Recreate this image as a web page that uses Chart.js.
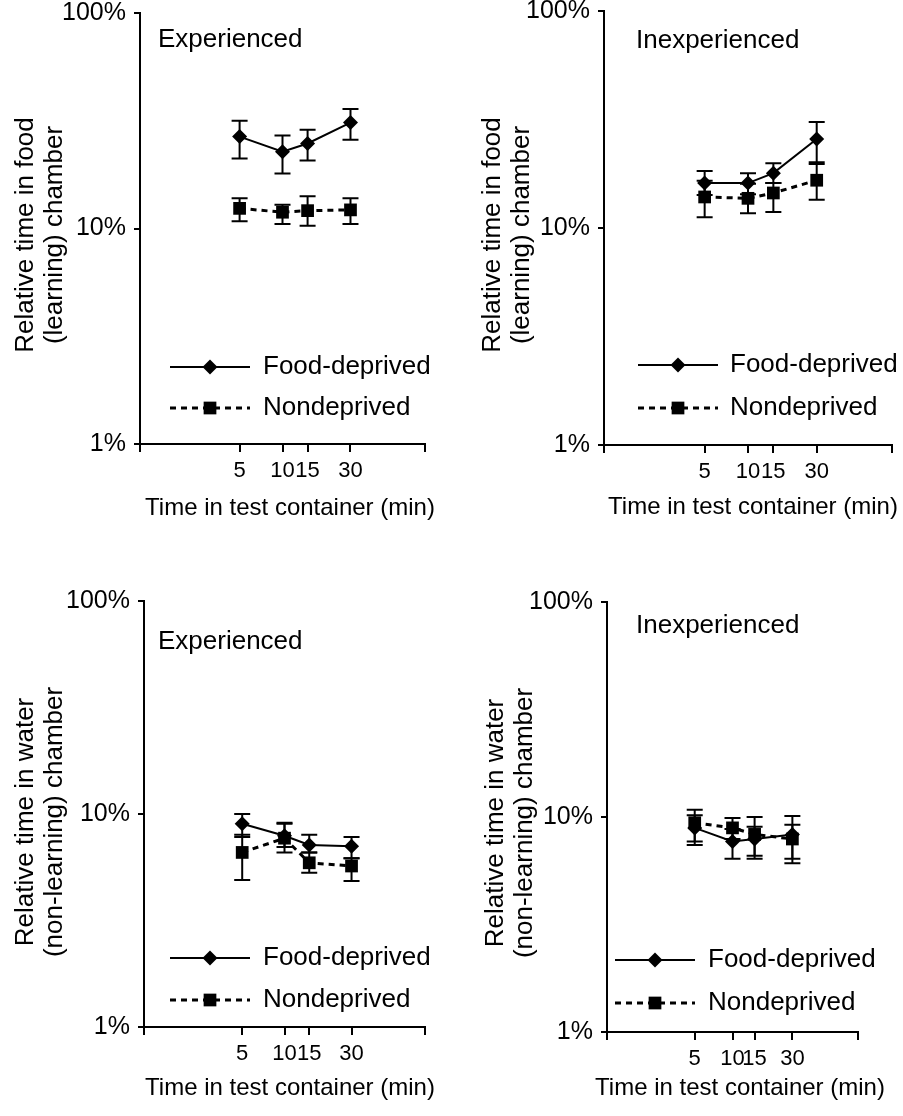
<!DOCTYPE html>
<html lang="en">
<head>
<meta charset="UTF-8">
<title>Relative time in chamber</title>
<script src="https://cdn.jsdelivr.net/npm/chart.js"></script>
<style>
  body { margin: 0; background: #fff; }
  #page { position: relative; width: 903px; height: 1116px; }
  canvas { position: absolute; }
</style>
</head>
<body>
<div id="page">
  <canvas id="foodExp"></canvas>
  <canvas id="foodInexp"></canvas>
  <canvas id="waterExp"></canvas>
  <canvas id="waterInexp"></canvas>
</div>

<script>
  // x = time in test container (min), y = relative time (%), both log axes
  const times = [5, 10, 15, 30];
  const xTicks = [1, 5, 10, 15, 30, 100];
  const xTickLabels = [5, 10, 15, 30];
  const yTicks = [1, 10, 100];
  const seriesNames = ['Food-deprived', 'Nondeprived'];
  const xTitle = 'Time in test container (min)';

  // food (learning) chamber, experienced
  const foodExpDeprived = [26.7, 22.7, 24.8, 31.0];
  const foodExpDeprivedLow = [21.1, 18.0, 20.7, 25.8];
  const foodExpDeprivedHigh = [31.6, 27.0, 28.7, 35.9];
  const foodExpNondeprived = [12.4, 11.9, 12.1, 12.2];
  const foodExpNondeprivedLow = [10.8, 10.5, 10.3, 10.5];
  const foodExpNondeprivedHigh = [13.8, 12.9, 14.1, 13.8];

  // food (learning) chamber, inexperienced
  const foodInexpDeprived = [16.1, 16.1, 17.9, 25.7];
  const foodInexpDeprivedLow = [14.2, 14.3, 16.1, 20.1];
  const foodInexpDeprivedHigh = [18.3, 17.9, 19.9, 30.8];
  const foodInexpNondeprived = [13.9, 13.7, 14.5, 16.6];
  const foodInexpNondeprivedLow = [11.2, 11.7, 11.85, 13.5];
  const foodInexpNondeprivedHigh = [16.5, 16.0, 16.1, 19.7];

  // water (non-learning) chamber, experienced
  const waterExpDeprived = [9.0, 7.9, 7.15, 7.05];
  const waterExpDeprivedLow = [7.8, 7.0, 6.6, 6.2];
  const waterExpDeprivedHigh = [10.0, 9.1, 8.0, 7.8];
  const waterExpNondeprived = [6.6, 7.7, 5.9, 5.7];
  const waterExpNondeprivedLow = [4.9, 6.6, 5.3, 4.85];
  const waterExpNondeprivedHigh = [8.0, 9.0, 6.6, 6.2];

  // water (non-learning) chamber, inexperienced
  const waterInexpDeprived = [8.9, 7.7, 7.9, 8.3];
  const waterInexpDeprivedLow = [7.4, 6.4, 6.4, 6.4];
  const waterInexpDeprivedHigh = [10.2, 8.8, 9.0, 10.1];
  const waterInexpNondeprived = [9.4, 8.9, 8.3, 7.9];
  const waterInexpNondeprivedLow = [7.7, 7.9, 6.6, 6.1];
  const waterInexpNondeprivedHigh = [10.8, 9.9, 10.0, 9.2];

  const FONT = "'Liberation Sans', Arial, Helvetica, sans-serif";
  Chart.defaults.font.family = FONT;
  Chart.defaults.color = '#000';

  // positions are in canvas pixels
  const panels = [
    {
      canvasId: 'foodExp', left: 0, top: 0, width: 450, height: 522,
      area: { left: 140, top: 13, right: 425, bottom: 444 },
      title: 'Experienced', titleAt: [158, 47],
      yTitle: ['Relative time in food', '(learning) chamber'], yTitleAt: [33, 235],
      xTitleAt: [290, 508],
      legendRows: [367, 408], legendLine: [170, 250], legendText: 263,
      deprived: [foodExpDeprived, foodExpDeprivedLow, foodExpDeprivedHigh],
      nondeprived: [foodExpNondeprived, foodExpNondeprivedLow, foodExpNondeprivedHigh]
    },
    {
      canvasId: 'foodInexp', left: 450, top: 0, width: 453, height: 521,
      area: { left: 154, top: 11, right: 442, bottom: 445 },
      title: 'Inexperienced', titleAt: [186, 48],
      yTitle: ['Relative time in food', '(learning) chamber'], yTitleAt: [50, 235],
      xTitleAt: [303, 507],
      legendRows: [365, 408], legendLine: [188, 268], legendText: 280,
      deprived: [foodInexpDeprived, foodInexpDeprivedLow, foodInexpDeprivedHigh],
      nondeprived: [foodInexpNondeprived, foodInexpNondeprivedLow, foodInexpNondeprivedHigh]
    },
    {
      canvasId: 'waterExp', left: 0, top: 560, width: 450, height: 542,
      area: { left: 144, top: 41, right: 425, bottom: 467 },
      title: 'Experienced', titleAt: [158, 89],
      yTitle: ['Relative time in water', '(non-learning) chamber'], yTitleAt: [33, 262],
      xTitleAt: [290, 528],
      legendRows: [398, 440], legendLine: [170, 250], legendText: 263,
      deprived: [waterExpDeprived, waterExpDeprivedLow, waterExpDeprivedHigh],
      nondeprived: [waterExpNondeprived, waterExpNondeprivedLow, waterExpNondeprivedHigh]
    },
    {
      canvasId: 'waterInexp', left: 450, top: 560, width: 453, height: 542,
      area: { left: 157, top: 42, right: 408, bottom: 472 },
      title: 'Inexperienced', titleAt: [186, 73],
      yTitle: ['Relative time in water', '(non-learning) chamber'], yTitleAt: [53, 263],
      xTitleAt: [290, 528],
      legendRows: [400, 443], legendLine: [165, 245], legendText: 258,
      deprived: [waterInexpDeprived, waterInexpDeprivedLow, waterInexpDeprivedHigh],
      nondeprived: [waterInexpNondeprived, waterInexpNondeprivedLow, waterInexpNondeprivedHigh]
    }
  ];

  // vertical error bars with caps, drawn under the markers
  const errorBars = {
    id: 'errorBars',
    beforeDatasetsDraw(chart) {
      const ctx = chart.ctx;
      const yScale = chart.scales.y;
      ctx.save();
      ctx.strokeStyle = '#000';
      ctx.lineWidth = 2;
      chart.data.datasets.forEach((ds, i) => {
        chart.getDatasetMeta(i).data.forEach((pt, j) => {
          const yLo = yScale.getPixelForValue(ds.errLow[j]);
          const yHi = yScale.getPixelForValue(ds.errHigh[j]);
          ctx.beginPath();
          ctx.moveTo(pt.x, yLo); ctx.lineTo(pt.x, yHi);
          ctx.moveTo(pt.x - 8, yLo); ctx.lineTo(pt.x + 8, yLo);
          ctx.moveTo(pt.x - 8, yHi); ctx.lineTo(pt.x + 8, yHi);
          ctx.stroke();
        });
      });
      ctx.restore();
    }
  };

  // panel title, axis titles and the in-plot legend
  function makeDecor(p) {
    return {
      id: 'decor',
      afterDraw(chart) {
        const ctx = chart.ctx;
        ctx.save();
        ctx.fillStyle = '#000';

        ctx.font = '26px ' + FONT;
        ctx.textAlign = 'left';
        ctx.textBaseline = 'alphabetic';
        ctx.fillText(p.title, p.titleAt[0], p.titleAt[1]);

        p.yTitle.forEach((line, i) => {
          ctx.save();
          ctx.translate(p.yTitleAt[0] + i * 29, p.yTitleAt[1]);
          ctx.rotate(-Math.PI / 2);
          ctx.textAlign = 'center';
          ctx.fillText(line, 0, 0);
          ctx.restore();
        });

        ctx.font = '24px ' + FONT;
        ctx.textAlign = 'center';
        ctx.textBaseline = 'middle';
        ctx.fillText(xTitle, p.xTitleAt[0], p.xTitleAt[1]);

        const [x1, x2] = p.legendLine;
        chart.data.datasets.forEach((ds, i) => {
          const y = p.legendRows[i];
          ctx.strokeStyle = '#000';
          ctx.lineWidth = ds.borderWidth;
          ctx.setLineDash(ds.borderDash);
          ctx.beginPath();
          ctx.moveTo(x1, y);
          ctx.lineTo(x2, y);
          ctx.stroke();
          ctx.setLineDash([]);
          Chart.helpers.drawPoint(ctx, {
            pointStyle: ds.pointStyle, rotation: 0, radius: ds.pointRadius, borderWidth: 0
          }, (x1 + x2) / 2, y);
          ctx.font = '26px ' + FONT;
          ctx.textAlign = 'left';
          ctx.textBaseline = 'middle';
          ctx.fillText(ds.label, p.legendText, y);
        });
        ctx.restore();
      }
    };
  }

  function buildChart(p) {
    const canvas = document.getElementById(p.canvasId);
    canvas.width = p.width;
    canvas.height = p.height;
    canvas.style.left = p.left + 'px';
    canvas.style.top = p.top + 'px';
    const a = p.area;

    const series = [
      { name: seriesNames[0], v: p.deprived, style: 'rectRot', radius: 7.5, width: 2, dash: [] },
      { name: seriesNames[1], v: p.nondeprived, style: 'rect', radius: 9, width: 3, dash: [6, 5] }
    ];

    new Chart(canvas, {
      type: 'line',
      data: {
        datasets: series.map(s => ({
          label: s.name,
          data: times.map((t, i) => ({ x: t, y: s.v[0][i] })),
          errLow: s.v[1],
          errHigh: s.v[2],
          borderColor: '#000',
          borderWidth: s.width,
          borderDash: s.dash,
          pointStyle: s.style,
          pointRadius: s.radius,
          pointBackgroundColor: '#000',
          pointBorderWidth: 0,
          fill: false,
          tension: 0
        }))
      },
      options: {
        responsive: false,
        animation: false,
        devicePixelRatio: 1,
        layout: { padding: { left: 0, top: a.top, right: p.width - a.right, bottom: 0 } },
        scales: {
          x: {
            type: 'logarithmic', min: 1, max: 100,
            afterBuildTicks: s => { s.ticks = xTicks.map(v => ({ value: v })); },
            afterFit: s => { s.height = p.height - a.bottom; s.paddingLeft = 0; s.paddingRight = 0; },
            ticks: {
              callback: v => xTickLabels.includes(v) ? String(v) : '',
              autoSkip: false, maxRotation: 0, minRotation: 0, padding: 6,
              font: { size: 22 }, color: '#000'
            },
            grid: { drawOnChartArea: false, tickLength: 8, color: '#000', lineWidth: 2 },
            border: { color: '#000', width: 2 }
          },
          y: {
            type: 'logarithmic', min: 1, max: 100,
            afterBuildTicks: s => { s.ticks = yTicks.map(v => ({ value: v })); },
            afterFit: s => { s.width = a.left; s.paddingTop = 0; s.paddingBottom = 0; },
            ticks: { callback: v => v + '%', padding: 8, font: { size: 25 }, color: '#000' },
            grid: { drawOnChartArea: false, tickLength: 6, color: '#000', lineWidth: 2 },
            border: { color: '#000', width: 2 }
          }
        },
        plugins: {
          legend: { display: false },
          tooltip: { enabled: false }
        }
      },
      plugins: [errorBars, makeDecor(p)]
    });
  }

  panels.forEach(buildChart);
</script>
</body>
</html>
